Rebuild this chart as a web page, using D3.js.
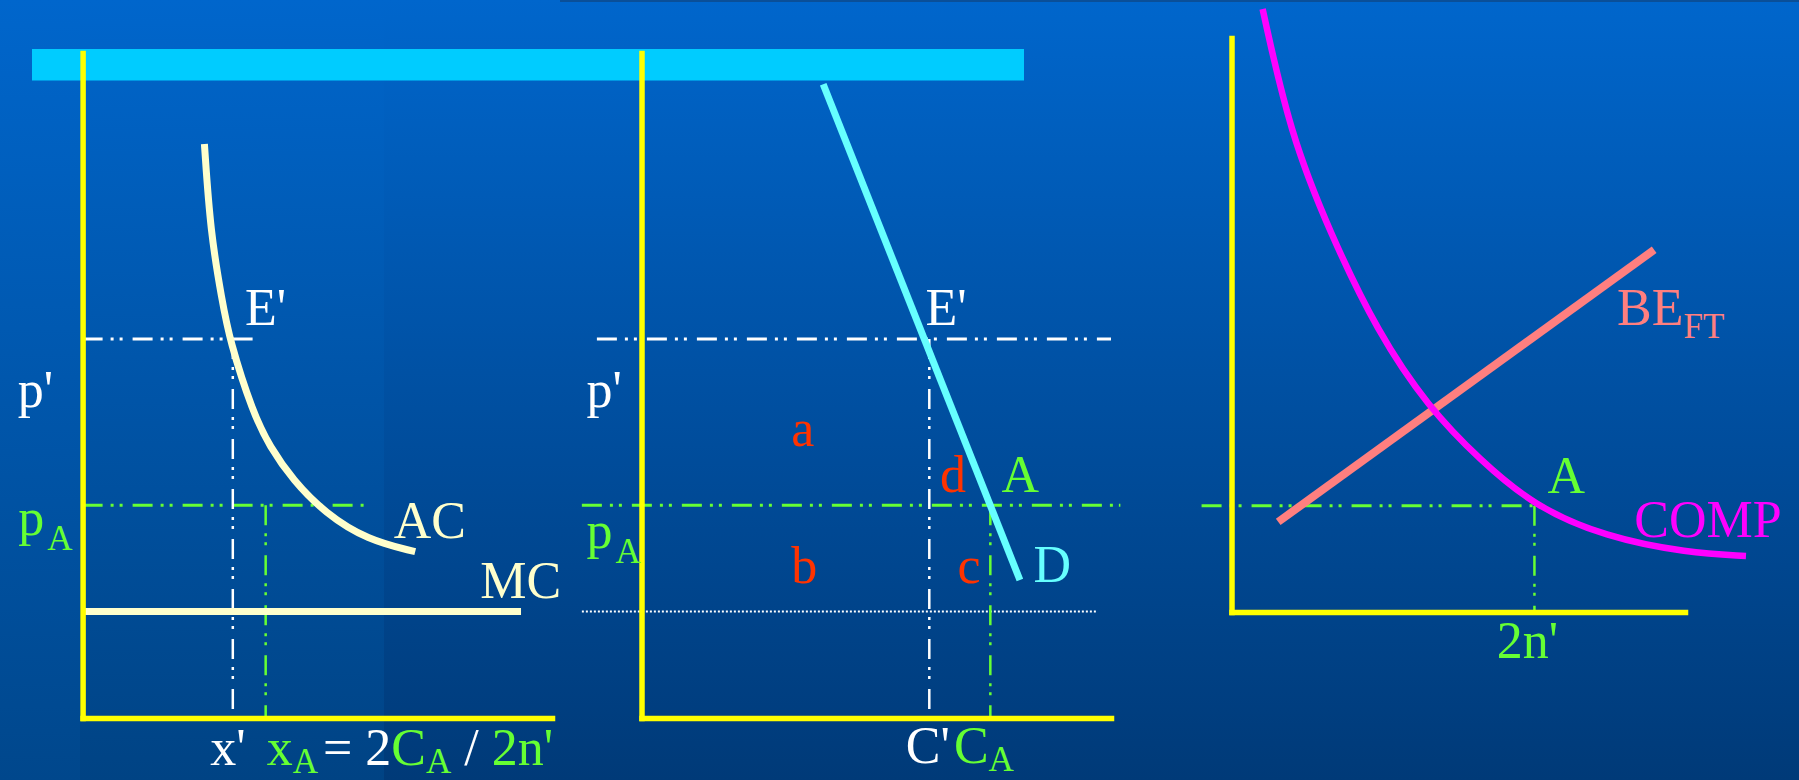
<!DOCTYPE html>
<html>
<head>
<meta charset="utf-8">
<script src="https://cdn.jsdelivr.net/npm/d3@7"></script>
<style>
  html, body { margin: 0; padding: 0; background: #004a94; }
  svg { display: block; }
  text { font-family: "Liberation Serif", "Times New Roman", serif; white-space: pre; }
</style>
</head>
<body>
<svg id="chart" width="1799" height="780"></svg>
<script>
// ---------------- data (price / quantity units, 0–100 on every axis) ----------------
// Panels 1 and 2 share the same price levels
const P_PRIME = 57;     // p'
const P_A = 32;         // pA
const MC_LEVEL = 16;    // constant marginal cost

// Panel 1: firm cost curves
const acCurve = [[25.95, 86.32], [27.25, 72.93], [29.7, 62.86], [31.3, 56.84], [36.3, 45.86],
                 [39.88, 40.8], [44.78, 35.79], [51.7, 30.78], [60.67, 26.77], [70.86, 25.01]];
const mcSpan = [0, 93.4];
const X_PRIME = 32;     // x'
const X_A = 39;         // xA
const pPrimeSpan1 = [0, 36.9];
const pASpan1 = [0, 60.8];

// Panel 2: market demand
const demandLine = [[38.7, 95.3], [80.6, 20.75]];
const C_PRIME = 61.3;   // C'
const C_A = 74.3;       // CA
const pPrimeSpan2 = [-9.5, 100];
const pASpan2 = [-12.7, 102];
const mcSpan2 = [-12.7, 96.8];

// Panel 3: number of firms
const compCurve = [[6.86, 105.05], [12.9, 83.45], [21.72, 66.03], [32.3, 48.61], [43.42, 35.66],
                   [54.8, 26.48], [66.7, 18.47], [82.36, 13.07], [100.66, 10.28], [113.45, 9.76]];
const beLine = [[10.3, 15.7], [93.2, 63.1]];
const TWO_N = 66.8;     // 2n'
const P_A3 = 18.5;
const pASpan3 = [-6.6, 66.8];

// ---------------- layout ----------------
const W = 1799, H = 780;
const svg = d3.select("#chart");

const x1 = d3.scaleLinear().domain([0, 100]).range([82.6, 552]);
const x2 = d3.scaleLinear().domain([0, 100]).range([641.5, 1111]);
const yP = d3.scaleLinear().domain([0, 100]).range([718, 53]);
const x3 = d3.scaleLinear().domain([0, 100]).range([1231.5, 1685]);
const y3 = d3.scaleLinear().domain([0, 100]).range([612, 38]);

const COLORS = {
  axis: "#FFFF00", white: "#FFFFFF", green: "#66FF33", red: "#FF3300",
  cream: "#FFFFCC", cyan: "#66FFFF", magenta: "#FF00FF", salmon: "#FF7F7F", bar: "#00CCFF"
};
const DASH_DOT_DOT = "20 8 3 6 3 10";

// ---------------- background ----------------
const defs = svg.append("defs");
function vGrad(id, top, bottom) {
  const g = defs.append("linearGradient").attr("id", id)
    .attr("x1", 0).attr("y1", 0).attr("x2", 0).attr("y2", 1);
  g.append("stop").attr("offset", "0%").attr("stop-color", top);
  g.append("stop").attr("offset", "100%").attr("stop-color", bottom);
}
vGrad("bgMain", "#0066CC", "#003A78");
vGrad("bgLeft", "#0066CC", "#004384");
vGrad("bgEdge", "#0066CC", "#00478C");

svg.append("rect").attr("width", W).attr("height", H).attr("fill", "url(#bgMain)");
svg.append("rect").attr("x", 80).attr("y", 0).attr("width", 304).attr("height", H).attr("fill", "url(#bgLeft)");
svg.append("rect").attr("x", 0).attr("y", 0).attr("width", 80).attr("height", H).attr("fill", "url(#bgEdge)");
svg.append("rect").attr("x", 560).attr("y", 0).attr("width", W - 560).attr("height", 2).attr("fill", "#0a4f98");

// title band
svg.append("rect").attr("x", 32).attr("y", 49).attr("width", 992).attr("height", 31.5).attr("fill", COLORS.bar);

// ---------------- helpers ----------------
function lineGen(xs, ys) { return d3.line().x(d => xs(d[0])).y(d => ys(d[1])); }
const smooth = d3.curveBasis;

function hLine(g, xs, ys, span, level, color, width, dash) {
  g.append("path")
    .attr("d", lineGen(xs, ys)([[span[0], level], [span[1], level]]))
    .attr("fill", "none").attr("stroke", color).attr("stroke-width", width)
    .attr("stroke-dasharray", dash || null);
}
function vLine(g, xs, ys, at, from, to, color, width, dash) {
  g.append("path")
    .attr("d", lineGen(xs, ys)([[at, from], [at, to]]))
    .attr("fill", "none").attr("stroke", color).attr("stroke-width", width)
    .attr("stroke-dasharray", dash || null);
}
function axes(g, xs, ys) {
  const bottom = g.append("g").attr("transform", `translate(0,${ys(0)})`)
    .call(d3.axisBottom(xs).tickValues([]).tickSizeOuter(0));
  const left = g.append("g").attr("transform", `translate(${xs(0)},0)`)
    .call(d3.axisLeft(ys).tickValues([]).tickSizeOuter(0));
  [bottom, left].forEach(a => a.select(".domain")
    .attr("stroke", COLORS.axis).attr("stroke-width", 5.5).attr("stroke-linecap", "square"));
}
function label(g, xs, ys, at, parts, subShift) {
  const shift = subShift || 14;
  const t = g.append("text").attr("x", xs(at[0])).attr("y", ys(at[1])).attr("font-size", 52);
  let low = false;
  parts.forEach(p => {
    const ts = t.append("tspan").text(p[0]).attr("fill", p[1]);
    const opt = p[2] || {};
    if (opt.sub) ts.attr("font-size", 35);
    let dy = 0;
    if (opt.sub && !low) { dy = shift; low = true; }
    else if (!opt.sub && low) { dy = -shift; low = false; }
    if (dy) ts.attr("dy", dy);
    if (opt.dx) ts.attr("dx", opt.dx);
  });
}

// ---------------- panel 1: firm ----------------
const g1 = svg.append("g");
hLine(g1, x1, yP, pPrimeSpan1, P_PRIME, COLORS.white, 3, DASH_DOT_DOT);
hLine(g1, x1, yP, pASpan1, P_A, COLORS.green, 3, DASH_DOT_DOT);
vLine(g1, x1, yP, X_PRIME, P_PRIME, 0, COLORS.white, 2.5, DASH_DOT_DOT);
vLine(g1, x1, yP, X_A, P_A, 0, COLORS.green, 2.5, DASH_DOT_DOT);
g1.append("path").attr("d", lineGen(x1, yP)([[mcSpan[0], MC_LEVEL], [mcSpan[1], MC_LEVEL]]))
  .attr("fill", "none").attr("stroke", COLORS.cream).attr("stroke-width", 7);
g1.append("path").attr("d", lineGen(x1, yP).curve(smooth)(acCurve))
  .attr("fill", "none").attr("stroke", COLORS.cream).attr("stroke-width", 7);
axes(g1, x1, yP);

label(g1, x1, yP, [34.6, 59.1], [["E'", COLORS.white]]);
label(g1, x1, yP, [-13.8, 46.8], [["p'", COLORS.white]]);
label(g1, x1, yP, [-13.7, 27.5], [["p", COLORS.green], ["A", COLORS.green, { sub: true, dx: 3 }]], 15);
label(g1, x1, yP, [66.3, 27.07], [["AC", COLORS.cream]]);
label(g1, x1, yP, [84.7, 18.05], [["MC", COLORS.cream]]);
label(g1, x1, yP, [27.2, -7.07], [
  ["x'", COLORS.white], ["x", COLORS.green, { dx: 21 }], ["A", COLORS.green, { sub: true }],
  ["= 2", COLORS.white, { dx: 5 }], ["C", COLORS.green], ["A", COLORS.green, { sub: true }],
  [" / ", COLORS.white], ["2n'", COLORS.green]
], 8);

// ---------------- panel 2: market ----------------
const g2 = svg.append("g");
hLine(g2, x2, yP, pPrimeSpan2, P_PRIME, COLORS.white, 3, DASH_DOT_DOT);
hLine(g2, x2, yP, pASpan2, P_A, COLORS.green, 3, DASH_DOT_DOT);
hLine(g2, x2, yP, mcSpan2, MC_LEVEL, COLORS.white, 2, "2 2");
vLine(g2, x2, yP, C_PRIME, P_PRIME, 0, COLORS.white, 2.5, DASH_DOT_DOT);
vLine(g2, x2, yP, C_A, P_A, 0, COLORS.green, 2.5, DASH_DOT_DOT);
g2.append("path").attr("d", lineGen(x2, yP)(demandLine))
  .attr("fill", "none").attr("stroke", COLORS.cyan).attr("stroke-width", 7);
axes(g2, x2, yP);

label(g2, x2, yP, [60.5, 59.1], [["E'", COLORS.white]]);
label(g2, x2, yP, [-11.7, 46.8], [["p'", COLORS.white]]);
label(g2, x2, yP, [-11.7, 25.5], [["p", COLORS.green], ["A", COLORS.green, { sub: true, dx: 3 }]], 15);
label(g2, x2, yP, [31.9, 40.9], [["a", COLORS.red]]);
label(g2, x2, yP, [31.9, 20.25], [["b", COLORS.red]]);
label(g2, x2, yP, [63.6, 34.0], [["d", COLORS.red]]);
label(g2, x2, yP, [67.3, 20.3], [["c", COLORS.red]]);
label(g2, x2, yP, [76.7, 34.0], [["A", COLORS.green]]);
label(g2, x2, yP, [83.5, 20.45], [["D", COLORS.cyan]]);
label(g2, x2, yP, [56.3, -6.77], [
  ["C'", COLORS.white], ["C", COLORS.green, { dx: 4 }], ["A", COLORS.green, { sub: true }]
], 8);

// ---------------- panel 3: number of firms ----------------
const g3 = svg.append("g");
hLine(g3, x3, y3, pASpan3, P_A3, COLORS.green, 3, DASH_DOT_DOT);
vLine(g3, x3, y3, TWO_N, P_A3, 0, COLORS.green, 2.5, DASH_DOT_DOT);
g3.append("path").attr("d", lineGen(x3, y3)(beLine))
  .attr("fill", "none").attr("stroke", COLORS.salmon).attr("stroke-width", 8);
g3.append("path").attr("d", lineGen(x3, y3).curve(smooth)(compCurve))
  .attr("fill", "none").attr("stroke", COLORS.magenta).attr("stroke-width", 6.5);
axes(g3, x3, y3);

label(g3, x3, y3, [85.0, 50.0], [["BE", COLORS.salmon], ["FT", COLORS.salmon, { sub: true }]], 13);
label(g3, x3, y3, [69.7, 20.8], [["A", COLORS.green]]);
label(g3, x3, y3, [88.8, 13.0], [["COMP", COLORS.magenta]]);
label(g3, x3, y3, [58.5, -8.07], [["2n'", COLORS.green]]);
</script>
</body>
</html>
